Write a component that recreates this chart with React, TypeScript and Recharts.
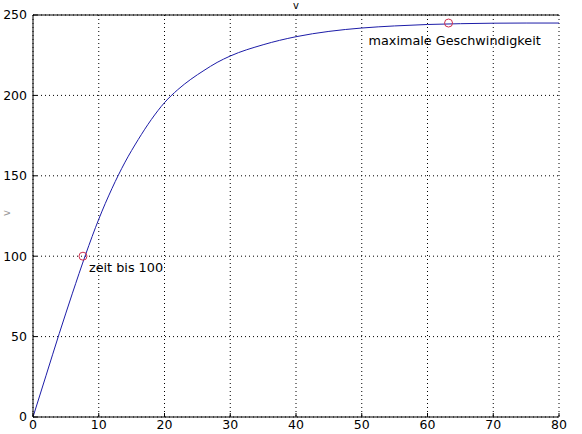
import React from 'react'
import { ComposedChart, Line, Scatter, XAxis, YAxis, CartesianGrid } from 'recharts'

// time in s, speed in km/h
const timeS = [0, 2, 4, 6, 8, 10, 12, 14, 16, 18, 20, 22, 24, 26, 28, 30, 35, 40, 45, 50, 55, 60, 65, 70, 75, 80]
const speed = [0, 26, 52, 77, 101, 123, 142, 158.5, 172.5, 185, 195.5, 203.5, 210, 215.5, 220.5, 224.5, 231.5, 236.5, 239.8, 241.9, 243.2, 244.1, 244.6, 244.9, 245, 245]

const markerT = [7.6, 63.2]
const markerV = [100, 245]
const markerText = ['zeit bis 100', 'maximale Geschwindigkeit']

const xTicks = [0, 10, 20, 30, 40, 50, 60, 70, 80]
const yTicks = [0, 50, 100, 150, 200, 250]

const curve = timeS.map((t, i) => ({ t, v: speed[i] }))
const markers = markerT.map((t, i) => ({ t, v: markerV[i], text: markerText[i] }))

// where each annotation sits relative to its circle
const textOffset = [
  { dx: 6, dy: 16 },
  { dx: -80, dy: 22 },
]

const FONT = '"DejaVu Sans", sans-serif'

const MarkerShape = (props: any) => {
  const { cx, cy, index } = props
  const off = textOffset[index] || { dx: 6, dy: 16 }
  return (
    <g>
      <circle cx={cx} cy={cy} r={4} fill="none" stroke="#d0304f" strokeWidth={1} />
      <text x={cx + off.dx} y={cy + off.dy} fontSize={12.8} fontFamily={FONT} fill="#000">
        {props.payload.text}
      </text>
    </g>
  )
}

const tickStyle = { fontSize: 12.5, fontFamily: FONT, fill: '#000' }

export default function App() {
  return (
    <div style={{ position: 'absolute', left: 0, top: 0, width: 582, height: 434, background: '#fff' }}>
      <ComposedChart
        width={582}
        height={434}
        data={curve}
        margin={{ top: 0, right: 23, left: 0, bottom: 0 }}
      >
        <CartesianGrid stroke="#000" strokeDasharray="1 3" />
        <XAxis
          dataKey="t"
          type="number"
          domain={[0, 80]}
          ticks={xTicks}
          interval={0}
          height={17}
          stroke="#000"
          tickSize={-4}
          tickMargin={7}
          tick={tickStyle}
          allowDataOverflow
        />
        <XAxis
          xAxisId="top"
          orientation="top"
          dataKey="t"
          type="number"
          domain={[0, 80]}
          ticks={xTicks}
          height={15}
          stroke="#000"
          tickSize={-4}
          tick={false}
          label={{ value: 'v', position: 'insideTop', offset: 2, fontSize: 10, fontFamily: FONT, fill: '#000' }}
        />
        <YAxis
          type="number"
          domain={[0, 250]}
          ticks={yTicks}
          interval={0}
          width={33}
          stroke="#000"
          tickSize={-4}
          tickMargin={10}
          tick={tickStyle}
          label={{ value: 'v', angle: -90, position: 'insideLeft', offset: 6, fontSize: 10, fontFamily: FONT, fill: '#999' }}
        />
        <YAxis
          yAxisId="right"
          orientation="right"
          type="number"
          domain={[0, 250]}
          ticks={yTicks}
          width={0}
          stroke="#000"
          tickSize={-4}
          tick={false}
        />
        <Line
          type="monotone"
          dataKey="v"
          stroke="#1c1ca8"
          strokeWidth={1}
          dot={false}
          isAnimationActive={false}
        />
        <Scatter data={markers} dataKey="v" shape={<MarkerShape />} isAnimationActive={false} />
      </ComposedChart>
    </div>
  )
}
